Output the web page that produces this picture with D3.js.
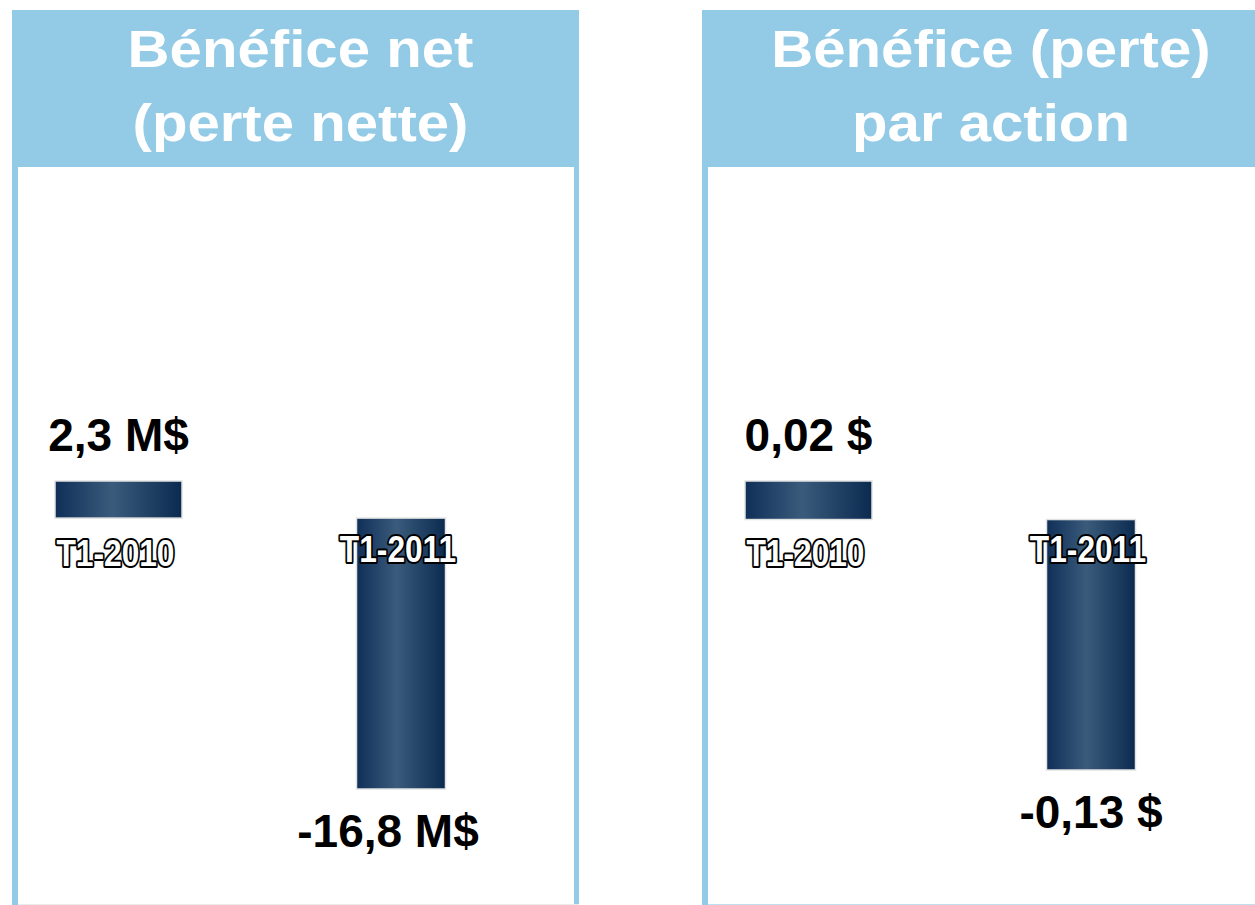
<!DOCTYPE html>
<html>
<head>
<meta charset="utf-8">
<script src="https://cdn.jsdelivr.net/npm/d3@7"></script>
<style>
  body { margin: 0; background: #fff; }
  svg { display: block; font-family: "Liberation Sans", Arial, sans-serif; }
</style>
</head>
<body>
<script>
// quarters shown in both panels
var categories = ["T1-2010", "T1-2011"];

// left panel: net income (loss), millions $
var netIncome = [2.3, -16.8];
var netIncomeLabels = ["2,3 M$", "-16,8 M$"];
var netTitle = ["Bénéfice net", "(perte nette)"];

// right panel: earnings (loss) per share, $
var eps = [0.02, -0.13];
var epsLabels = ["0,02 $", "-0,13 $"];
var epsTitle = ["Bénéfice (perte)", "par action"];

var W = 1255, H = 905;
var headerColor = "#93cbe6";

var svg = d3.select("body").append("svg")
  .attr("width", W)
  .attr("height", H);

var defs = svg.append("defs");
var grad = defs.append("linearGradient")
  .attr("id", "barGrad")
  .attr("x1", "0%").attr("x2", "100%")
  .attr("y1", "0%").attr("y2", "0%");
grad.append("stop").attr("offset", "0%").attr("stop-color", "#0f2f58");
grad.append("stop").attr("offset", "45%").attr("stop-color", "#3a5b7b");
grad.append("stop").attr("offset", "100%").attr("stop-color", "#0b2a50");

// draw one panel
function panel(opts) {
  var g = svg.append("g").attr("transform", "translate(" + opts.x + ",0)");
  var pw = opts.width;

  // frame
  g.append("rect")
    .attr("x", 0).attr("y", 10)
    .attr("width", pw).attr("height", H - 10)
    .attr("fill", headerColor);
  g.append("rect")
    .attr("x", 6).attr("y", 167)
    .attr("width", pw - (opts.closed ? 11 : 6)).attr("height", H - 167 - 1)
    .attr("fill", "#fff");
  g.append("line")
    .attr("x1", 6).attr("x2", pw).attr("y1", H - 0.5).attr("y2", H - 0.5)
    .attr("stroke", opts.bottomColor).attr("stroke-width", 1);

  // title, stretched horizontally like the source
  opts.title.forEach(function(t, i) {
    var txt = g.append("text")
      .attr("x", opts.titleX)
      .attr("y", i === 0 ? 67 : 141)
      .attr("text-anchor", "middle")
      .attr("font-size", "51px")
      .attr("font-weight", "bold")
      .attr("fill", "#fff")
      .text(t);
    var w = txt.node().getComputedTextLength();
    txt.attr("textLength", w * 1.14).attr("lengthAdjust", "spacingAndGlyphs");
  });

  var x = d3.scalePoint()
    .domain(categories)
    .range([106.5, 389]);

  var y = d3.scaleLinear()
    .domain(d3.extent(opts.values))
    .range([opts.bottom, 481]);

  var barW = [127, 89];

  g.selectAll("rect.bar")
    .data(opts.values)
    .enter()
    .append("rect")
    .attr("class", "bar")
    .attr("x", function(d, i) { return x(categories[i]) - barW[i] / 2; })
    .attr("y", function(d) { return y(Math.max(0, d)); })
    .attr("width", function(d, i) { return barW[i]; })
    .attr("height", function(d) { return Math.abs(y(d) - y(0)); })
    .attr("fill", "url(#barGrad)")
    .attr("stroke", "#e2e2e2")
    .attr("stroke-width", 1.5);

  // value labels
  g.selectAll("text.val")
    .data(opts.values)
    .enter()
    .append("text")
    .attr("class", "val")
    .attr("x", function(d, i) { return x(categories[i]) + (d < 0 ? opts.negShift : 0); })
    .attr("y", function(d) { return d < 0 ? y(d) + 58 : y(d) - 30; })
    .attr("text-anchor", "middle")
    .attr("font-size", "46px")
    .attr("font-weight", "bold")
    .attr("fill", "#000")
    .text(function(d, i) { return opts.labels[i]; });

  // category labels (white with black outline), slightly condensed
  g.selectAll("text.cat")
    .data(categories)
    .enter()
    .append("text")
    .attr("class", "cat")
    .attr("x", function(d) { return x(d) - 3; })
    .attr("y", function(d, i) { return i === 0 ? 566 : 562; })
    .attr("text-anchor", "middle")
    .attr("font-size", "36px")
    .attr("font-weight", "bold")
    .attr("fill", "#fff")
    .attr("stroke", "#000")
    .attr("stroke-width", 4)
    .attr("stroke-linejoin", "round")
    .attr("paint-order", "stroke")
    .text(function(d) { return d; })
    .each(function() {
      var w = this.getComputedTextLength();
      d3.select(this).attr("textLength", w * 0.88).attr("lengthAdjust", "spacingAndGlyphs");
    });
}

panel({
  x: 12, width: 567, closed: true,
  values: netIncome, labels: netIncomeLabels, title: netTitle,
  titleX: 288.5, bottom: 789, negShift: -13, bottomColor: "#ececec"
});

panel({
  x: 702, width: W - 702 + 10, closed: false,
  values: eps, labels: epsLabels, title: epsTitle,
  titleX: 289, bottom: 770, negShift: 0, bottomColor: "#bfe0f0"
});
</script>
</body>
</html>
